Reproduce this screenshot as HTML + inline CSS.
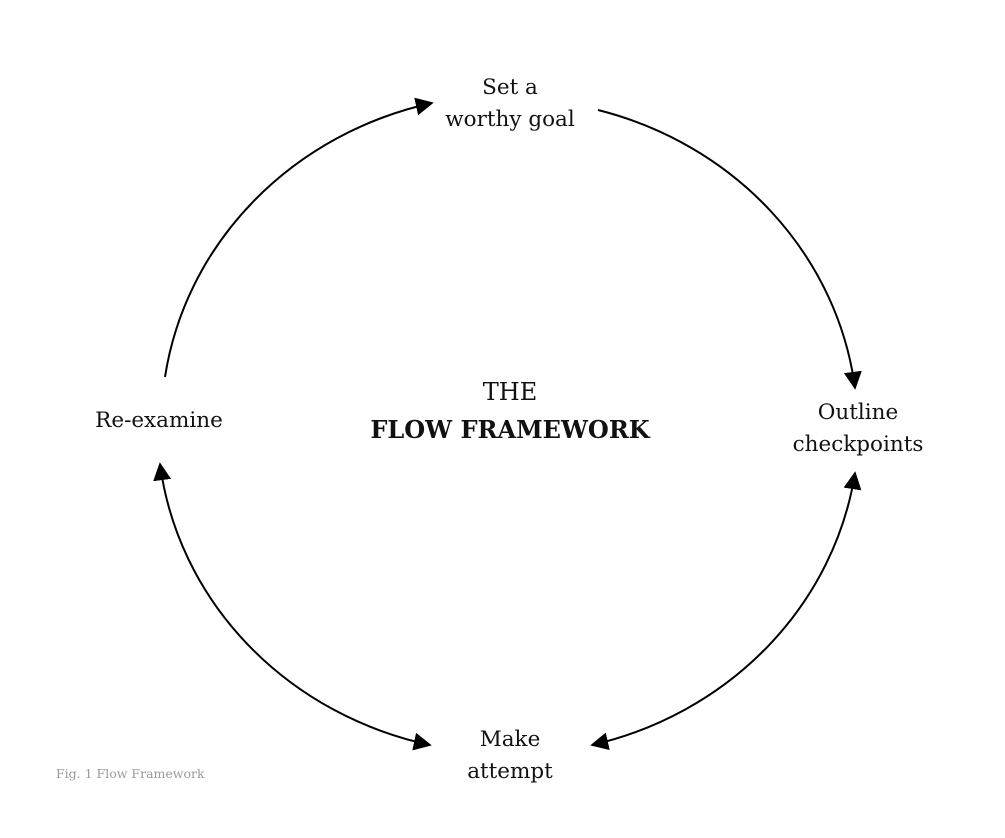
<!DOCTYPE html>
<html><head><style>
html,body{margin:0;padding:0;background:#fff;}
.t{position:absolute;font-family:"DejaVu Serif","Liberation Serif",serif;color:#111;font-size:21.5px;text-align:center;line-height:32px;}
</style></head><body>
<div style="position:relative;width:1005px;height:838px;overflow:hidden;">
<svg width="1005" height="838" style="position:absolute;left:0;top:0">
<defs>
<marker id="b" viewBox="0 0 10 10" refX="9" refY="5" markerWidth="18" markerHeight="18" markerUnits="userSpaceOnUse" orient="auto-start-reverse">
<path d="M0,0 L10,5 L0,10 z" fill="#000"/></marker>
</defs>
<g fill="none" stroke="#000" stroke-width="2">
<path d="M165,377 A350 330 0 0 1 432,103" marker-end="url(#b)"/>
<path d="M598,110 A350 330 0 0 1 855,388" marker-end="url(#b)"/>
<path d="M855,473 A350 330 0 0 1 592,745" marker-start="url(#b)" marker-end="url(#b)"/>
<path d="M160,464 A350 330 0 0 0 430,745" marker-start="url(#b)" marker-end="url(#b)"/>
</g>
</svg>
<div class="t" style="left:410px;top:72px;width:200px;">Set a<br>worthy goal</div>
<div class="t" style="left:758px;top:397px;width:200px;">Outline<br>checkpoints</div>
<div class="t" style="left:410px;top:724px;width:200px;">Make<br>attempt</div>
<div class="t" style="left:59px;top:405px;width:200px;">Re-examine</div>
<div class="t" style="left:360px;top:374px;width:300px;font-size:24px;line-height:37px;">THE<br><b>FLOW FRAMEWORK</b></div>
<div class="t" style="left:56px;top:766px;font-size:12.5px;line-height:16px;color:#999;text-align:left;">Fig. 1 Flow Framework</div>
</div>
</body></html>
